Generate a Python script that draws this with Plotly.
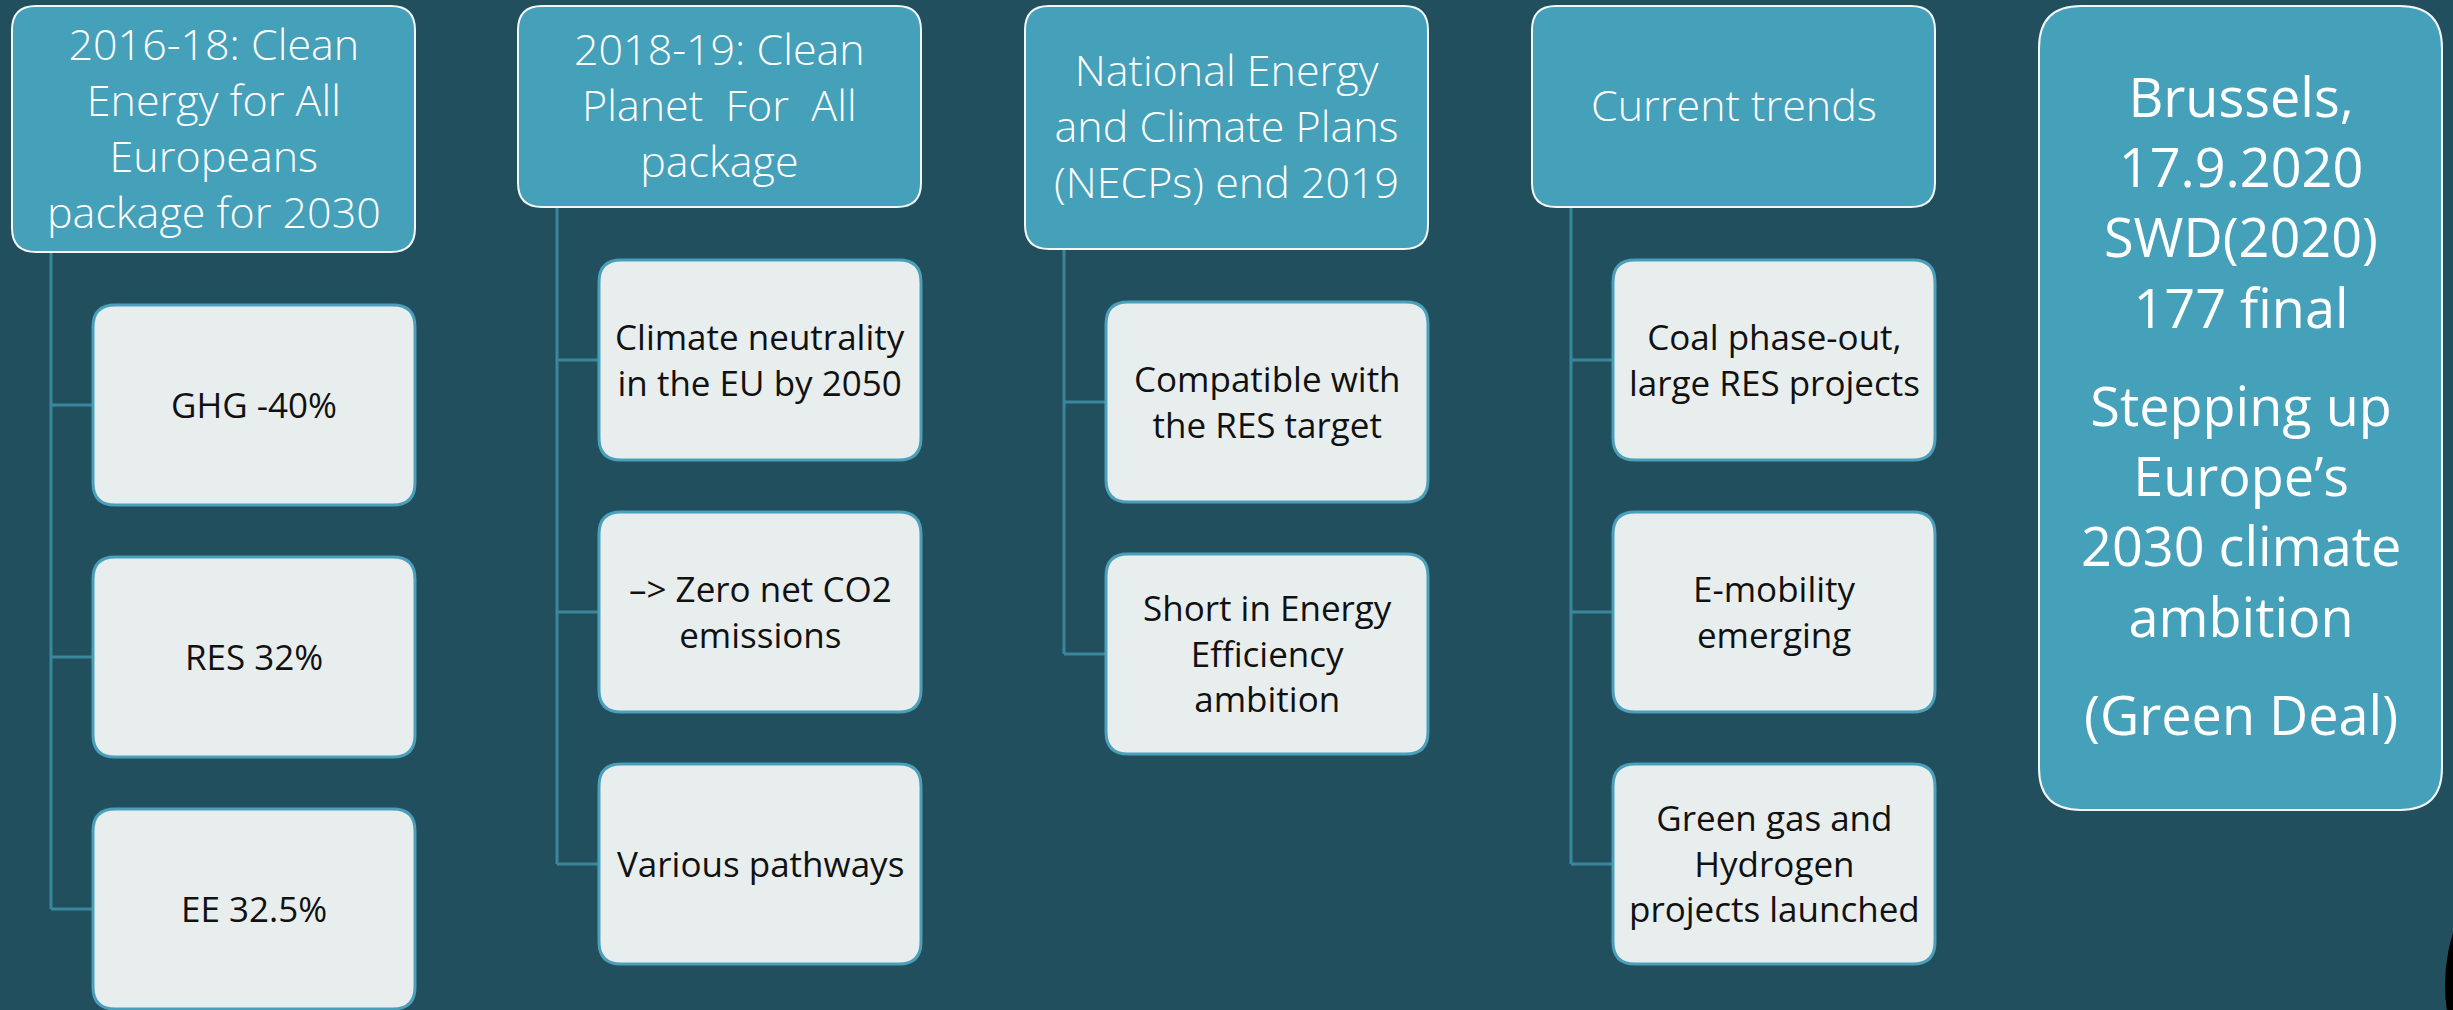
import plotly.graph_objects as go

# --- Inhalt des Diagramms ---
headers = [
    "2016-18: Clean<br>Energy for All<br>Europeans<br>package for 2030",
    "2018-19: Clean<br>Planet\u00a0 For\u00a0 All<br>package",
    "National Energy<br>and Climate Plans<br>(NECPs) end 2019",
    "Current trends",
]
children = [
    ["GHG -40%", "RES 32%", "EE 32.5%"],
    ["Climate neutrality<br>in the EU by 2050", "–> Zero net CO2<br>emissions", "Various pathways"],
    ["Compatible with<br>the RES target", "Short in Energy<br>Efficiency<br>ambition"],
    ["Coal phase-out,<br>large RES projects", "E-mobility<br>emerging",
     "Green gas and<br>Hydrogen<br>projects launched"],
]
summary = [
    "Brussels,<br>17.9.2020<br>SWD(2020)<br>177 final",
    "Stepping up<br>Europe’s<br>2030 climate<br>ambition",
    "(Green Deal)",
]

# --- Geometrie (Pixel, y nach unten) ---
W, H = 2453, 1010
COL_X0 = [12, 518, 1025, 1532]
HEAD_W = 403
HEAD_TOP = 6
HEAD_H = [246, 201, 243, 201]
SPINE_DX = 39
CHILD_DX = 81
CHILD_W = 322
CHILD_H = 200
CHILD_OFFSET = 53      # Abstand Kopfbox -> erste Kindbox
CHILD_PITCH = 252
SUM_X = (2039, 2442)
SUM_Y = (6, 810)
SUM_TEXT_Y = [201, 510, 714]

# --- Farben ---
BG = "#224f5d"
HEAD_FILL = "#45a0ba"
CHILD_FILL = "#e8eeee"
CHILD_LINE = "#4a9fbb"
CONN = "#3a879d"
FONT = "Open Sans"


def rounded(x0, y0, x1, y1, r):
    """SVG-Pfad fuer ein Rechteck mit runden Ecken."""
    return (f"M{x0 + r},{y0} L{x1 - r},{y0} Q{x1},{y0} {x1},{y0 + r} "
            f"L{x1},{y1 - r} Q{x1},{y1} {x1 - r},{y1} "
            f"L{x0 + r},{y1} Q{x0},{y1} {x0},{y1 - r} "
            f"L{x0},{y0 + r} Q{x0},{y0} {x0 + r},{y0} Z")


fig = go.Figure()
shapes = []
annotations = []

for i, (head, kids) in enumerate(zip(headers, children)):
    x0 = COL_X0[i]
    y1 = HEAD_TOP + HEAD_H[i]
    spine_x = x0 + SPINE_DX
    cx0 = x0 + CHILD_DX

    centers = [y1 + CHILD_OFFSET + k * CHILD_PITCH + CHILD_H / 2 for k in range(len(kids))]

    # Verbindungslinien
    shapes.append(dict(type="line", x0=spine_x, x1=spine_x, y0=y1, y1=centers[-1],
                       line=dict(color=CONN, width=3)))
    for c in centers:
        shapes.append(dict(type="line", x0=spine_x, x1=cx0, y0=c, y1=c,
                           line=dict(color=CONN, width=3)))

    # Kopfbox
    shapes.append(dict(type="path", path=rounded(x0, HEAD_TOP, x0 + HEAD_W, y1, 24),
                       fillcolor=HEAD_FILL, line=dict(color="#f2f6f7", width=2)))
    annotations.append(dict(x=x0 + HEAD_W / 2, y=(HEAD_TOP + y1) / 2 - 2, text=head,
                            font=dict(family=FONT, size=43, color="white", weight=300)))

    # Kindboxen
    for c, txt in zip(centers, kids):
        shapes.append(dict(type="path",
                           path=rounded(cx0, c - CHILD_H / 2, cx0 + CHILD_W, c + CHILD_H / 2, 22),
                           fillcolor=CHILD_FILL, line=dict(color=CHILD_LINE, width=3)))
        annotations.append(dict(x=cx0 + CHILD_W / 2, y=c - 1, text=txt,
                                font=dict(family=FONT, size=35, color="#111111")))

# Zusammenfassung rechts
shapes.append(dict(type="path", path=rounded(SUM_X[0], SUM_Y[0], SUM_X[1], SUM_Y[1], 42),
                   fillcolor=HEAD_FILL, line=dict(color="#f2f6f7", width=2)))
for ty, txt in zip(SUM_TEXT_Y, summary):
    annotations.append(dict(x=sum(SUM_X) / 2, y=ty, text=txt,
                            font=dict(family=FONT, size=54, color="white")))

# schwarzer Kreis am Rand unten rechts
shapes.append(dict(type="circle", x0=2445, x1=2791, y0=812, y1=1158,
                   fillcolor="black", line=dict(width=0)))

for a in annotations:
    a.update(xref="x", yref="y", showarrow=False, xanchor="center", yanchor="middle")

fig.update_layout(
    width=W, height=H,
    margin=dict(l=0, r=0, t=0, b=0),
    paper_bgcolor=BG, plot_bgcolor=BG,
    xaxis=dict(range=[0, W], visible=False, fixedrange=True),
    yaxis=dict(range=[H, 0], visible=False, fixedrange=True),
    shapes=shapes,
    annotations=annotations,
    showlegend=False,
)

# Body-Rand entfernen, damit die Grafik exakt im Fenster sitzt
fig.write_html("out.html", post_script="document.body.style.margin='0';",
               config={"displayModeBar": False})
